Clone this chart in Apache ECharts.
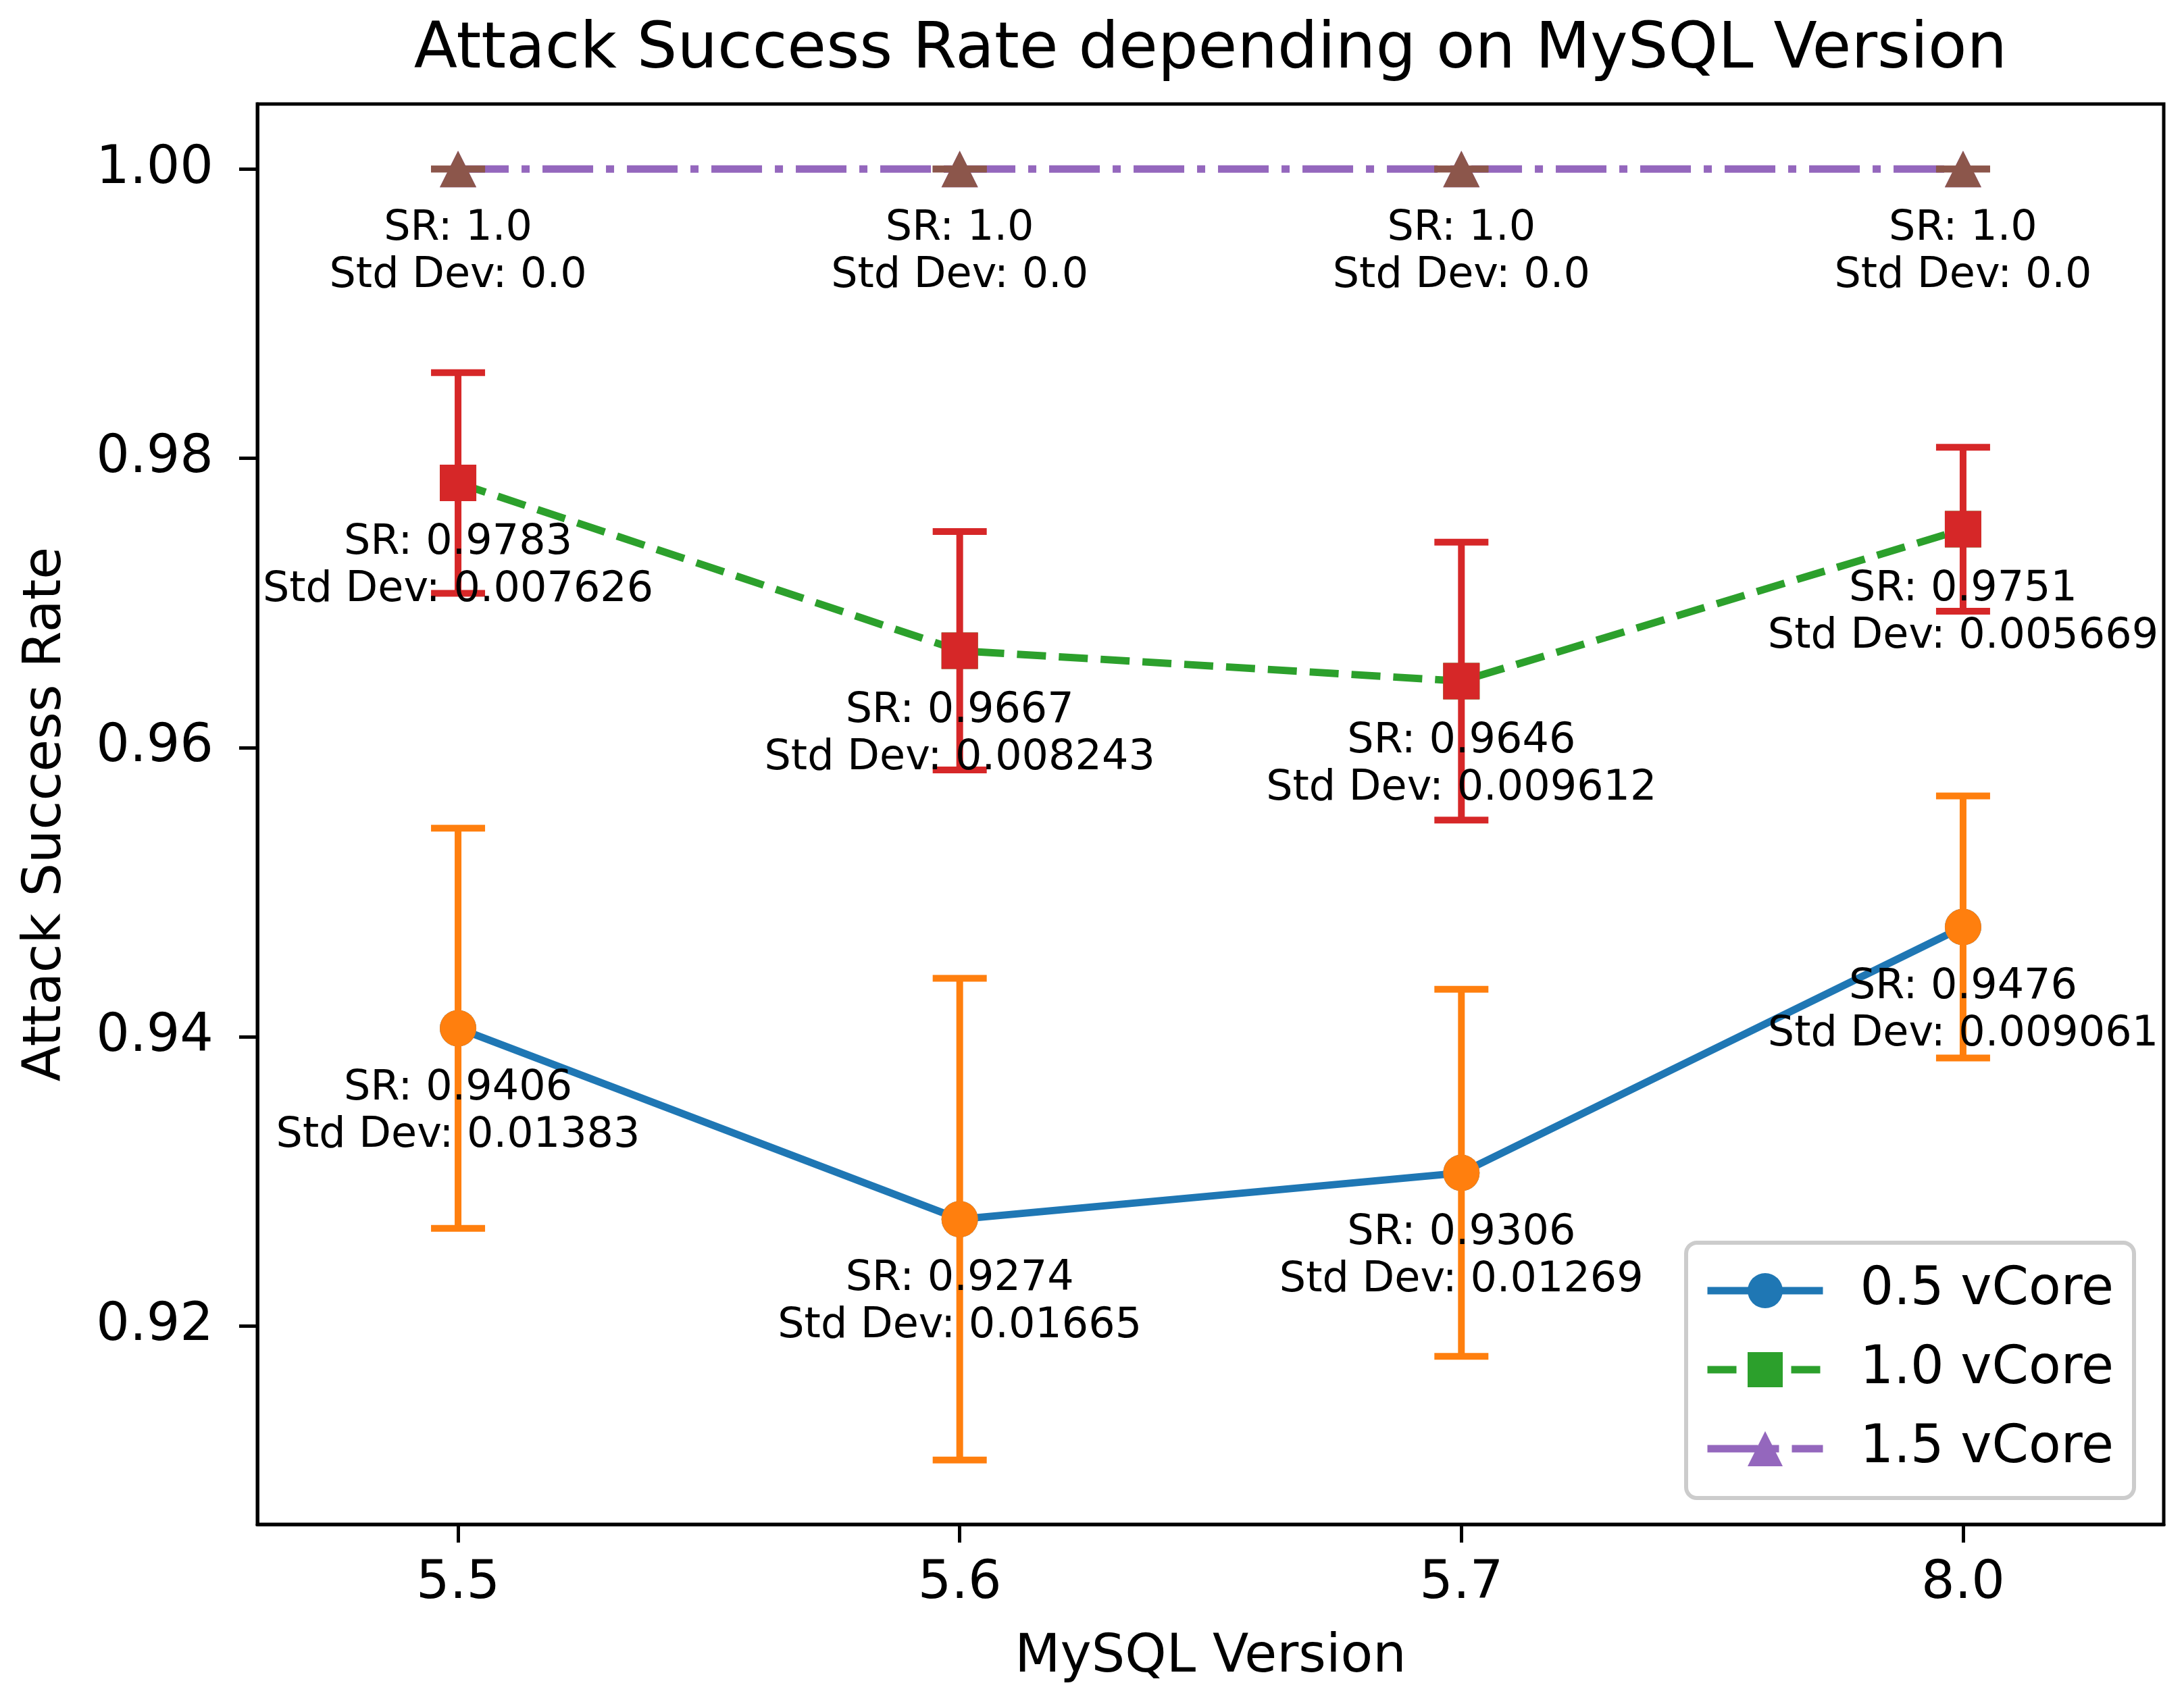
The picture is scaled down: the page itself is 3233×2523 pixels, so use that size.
<!DOCTYPE html>
<html>
<head>
<meta charset="utf-8">
<title>Attack Success Rate depending on MySQL Version</title>
<script src="https://cdn.jsdelivr.net/npm/echarts@6/dist/echarts.min.js"></script>
<style>
  html, body { margin: 0; padding: 0; background: #fff; }
  #chart { width: 3233px; height: 2523px; }
</style>
</head>
<body>
<div id="chart"></div>
<script>
let versions = ['5.5', '5.6', '5.7', '8.0'];
let yTicks = [0.92, 0.94, 0.96, 0.98, 1.00];

let sr05 = [0.9406, 0.9274, 0.9306, 0.9476];
let sd05 = [0.01383, 0.01665, 0.01269, 0.009061];
let sr10 = [0.9783, 0.9667, 0.9646, 0.9751];
let sd10 = [0.007626, 0.008243, 0.009612, 0.005669];
let sr15 = [1.0, 1.0, 1.0, 1.0];
let sd15 = [0.0, 0.0, 0.0, 0.0];

let FONT = 'DejaVu Sans';
let LINE_W = 11;
let MARK = 54;

let myChart = echarts.init(document.getElementById('chart'));

// python-like str() for the annotation numbers
function pyStr(v) {
    return Number.isInteger(v) ? v.toFixed(1) : String(v);
}

function rows(sr, sd) {
    return sr.map(function (v, i) { return [i, v, sd[i]]; });
}

function markerShape(kind, p, color) {
    let h = MARK / 2;
    if (kind === 'circle') {
        return {type: 'circle', shape: {cx: p[0], cy: p[1], r: h}, style: {fill: color}};
    }
    if (kind === 'rect') {
        return {type: 'rect', shape: {x: p[0] - h, y: p[1] - h, width: MARK, height: MARK}, style: {fill: color}};
    }
    return {
        type: 'polygon',
        shape: {points: [[p[0], p[1] - h], [p[0] - h, p[1] + h], [p[0] + h, p[1] + h]]},
        style: {fill: color}
    };
}

function errorBar(color, kind) {
    return function (params, api) {
        let x = api.value(0), y = api.value(1), sd = api.value(2);
        let p = api.coord([x, y]);
        let hi = api.coord([x, y + sd]);
        let lo = api.coord([x, y - sd]);
        let cap = 40;
        let st = {stroke: color, lineWidth: 10};
        return {
            type: 'group',
            children: [
                {type: 'line', shape: {x1: p[0], y1: hi[1], x2: p[0], y2: lo[1]}, style: st},
                {type: 'line', shape: {x1: p[0] - cap, y1: hi[1], x2: p[0] + cap, y2: hi[1]}, style: st},
                {type: 'line', shape: {x1: p[0] - cap, y1: lo[1], x2: p[0] + cap, y2: lo[1]}, style: st},
                markerShape(kind, p, color)
            ]
        };
    };
}

function annotate(params, api) {
    let p = api.coord([api.value(0), api.value(1)]);
    return {
        type: 'text',
        x: p[0],
        y: p[1] + 54,
        style: {
            text: 'SR: ' + pyStr(api.value(1)) + '\nStd Dev: ' + pyStr(api.value(2)),
            fontSize: 62,
            fontFamily: FONT,
            fill: '#000',
            align: 'center',
            verticalAlign: 'top',
            lineHeight: 70
        }
    };
}

function lineSeries(name, sr, color, type, symbol) {
    return {
        name: name,
        type: 'line',
        data: sr.map(function (v, i) { return [i, v]; }),
        z: 2,
        symbol: symbol,
        symbolSize: MARK,
        showAllSymbol: true,
        lineStyle: {color: color, width: LINE_W, type: type, cap: 'butt'},
        itemStyle: {color: color},
        emphasis: {disabled: true}
    };
}

function barSeries(name, sr, sd, color, kind) {
    return {
        name: name,
        type: 'custom',
        data: rows(sr, sd),
        z: 3,
        clip: false,
        renderItem: errorBar(color, kind)
    };
}

function labelSeries(name, sr, sd) {
    return {
        name: name,
        type: 'custom',
        data: rows(sr, sd),
        z: 5,
        clip: false,
        silent: true,
        renderItem: annotate
    };
}

let axisText = {fontSize: 78, fontFamily: FONT, color: '#000'};

option = {
    animation: false,
    backgroundColor: '#fff',
    graphic: [{
        type: 'text',
        x: 1792,
        y: 76,
        style: {
            text: 'Attack Success Rate depending on MySQL Version',
            fontSize: 94,
            fontFamily: FONT,
            fill: '#000',
            align: 'center',
            verticalAlign: 'middle'
        }
    }],
    grid: {
        left: 381, right: 30, top: 154, bottom: 266,
        containLabel: false,
        outerBoundsMode: 'none',
        show: true,
        borderColor: '#000',
        borderWidth: 5,
        backgroundColor: 'transparent'
    },
    legend: {
        data: ['0.5 vCore', '1.0 vCore', '1.5 vCore'],
        orient: 'vertical',
        left: 2496,
        top: 1840,
        itemWidth: 171,
        itemHeight: 65,
        itemGap: 39,
        padding: [32, 30, 34, 26],
        backgroundColor: 'rgba(255,255,255,0.8)',
        borderColor: '#cccccc',
        borderWidth: 6,
        borderRadius: 16,
        textStyle: {fontSize: 78, fontFamily: FONT, color: '#000', padding: [0, 0, 0, 50]},
        lineStyle: {width: LINE_W}
    },
    xAxis: {
        type: 'value',
        min: -0.4,
        max: 3.4,
        name: 'MySQL Version',
        nameLocation: 'middle',
        nameGap: 159,
        nameTextStyle: axisText,
        axisLine: {show: true, onZero: false, lineStyle: {color: '#000', width: 5}},
        axisTick: {show: true, length: 27, lineStyle: {color: '#000', width: 5},
            customValues: versions.map(function (v, i) { return i; })},
        axisLabel: Object.assign({
            customValues: versions.map(function (v, i) { return i; }),
            margin: 50,
            formatter: function (v) { return versions[Math.round(v)]; }
        }, axisText),
        splitLine: {show: false}
    },
    yAxis: {
        type: 'value',
        min: 0.9063,
        max: 1.0045,
        name: 'Attack Success Rate',
        nameLocation: 'middle',
        nameGap: 273,
        nameTextStyle: axisText,
        axisLine: {show: true, onZero: false, lineStyle: {color: '#000', width: 5}},
        axisTick: {show: true, length: 27, lineStyle: {color: '#000', width: 5}, customValues: yTicks},
        axisLabel: Object.assign({
            customValues: yTicks,
            margin: 65,
            formatter: function (v) { return v.toFixed(2); }
        }, axisText),
        splitLine: {show: false}
    },
    series: [
        lineSeries('0.5 vCore', sr05, '#1f77b4', 'solid', 'circle'),
        barSeries('err 0.5', sr05, sd05, '#ff7f0e', 'circle'),
        lineSeries('1.0 vCore', sr10, '#2ca02c', [43, 19], 'rect'),
        barSeries('err 1.0', sr10, sd10, '#d62728', 'rect'),
        lineSeries('1.5 vCore', sr15, '#9467bd', [75, 19, 12, 19], 'triangle'),
        barSeries('err 1.5', sr15, sd15, '#8c564b', 'triangle'),
        labelSeries('lab 0.5', sr05, sd05),
        labelSeries('lab 1.0', sr10, sd10),
        labelSeries('lab 1.5', sr15, sd15)
    ]
};
myChart.setOption(option);
</script>
</body>
</html>
